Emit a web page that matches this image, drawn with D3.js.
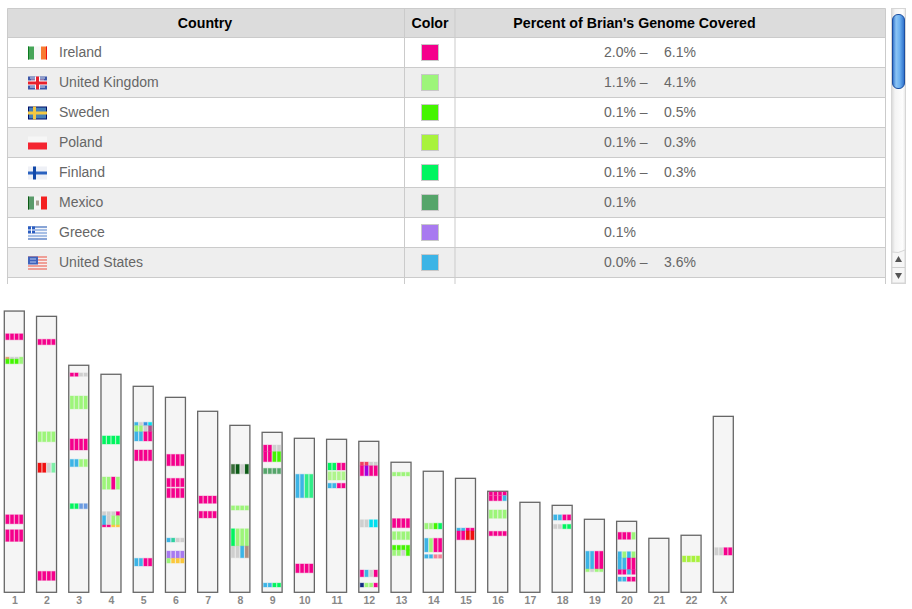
<!DOCTYPE html>
<html lang="en">
<head>
<meta charset="UTF-8">
<title>Brian's Genome</title>
<script src="https://d3js.org/d3.v7.min.js"></script>
<style>
    body { margin: 0; background: #fff; }
    svg { display: block; }
    text { font-family: "Liberation Sans", Arial, sans-serif; }
    .head { font-size: 14.2px; font-weight: bold; fill: #000; }
    .cell { font-size: 14px; fill: #666; }
    .tick text { font-size: 10.5px; font-weight: bold; fill: #888; }
</style>
</head>
<body>
<script>
    /******* DATA *******/
    // Table
    const countries = ["Ireland", "United Kingdom", "Sweden", "Poland", "Finland", "Mexico", "Greece", "United States"];
    const countryColors = ["#f5008c", "#9df57a", "#44f500", "#a8f23c", "#00f55f", "#55a56a", "#a87af0", "#3cb4e6"];
    const coverLow = ["2.0%", "1.1%", "0.1%", "0.1%", "0.1%", "0.1%", "0.1%", "0.0%"];
    const coverHigh = ["6.1%", "4.1%", "0.5%", "0.3%", "0.3%", null, null, "3.6%"];

    // Chromosomes, length in Mb
    const chromosomes = ["1","2","3","4","5","6","7","8","9","10","11","12","13","14","15","16","17","18","19","20","21","22","X"];
    const lengths = [250,245.3,201.8,193.8,183.1,173.3,160.9,148.4,142.2,136.9,136,134.2,115.6,107.6,101.3,89.8,80,77.3,64.9,63.1,48,50.7,156.4];

    // Short names for the colors used in the bands
    const IE = "#f5008c", UK = "#9df57a", SE = "#44f500", PL = "#a8f23c", FI = "#00f55f", MX = "#55a56a", GR = "#a87af0", US = "#3cb4e6";
    const GY = "#cfcfcf", CY = "#00e0f0", RD = "#f01010", DG = "#0c5a16", YL = "#fbc83c", NV = "#102a80", MV = "#b0508a";
    const SA = "#f58098", PW = "#6a9ae0", PU = "#a000e0", BR = "#b09080", MT = "#80f0a8", LG = "#b0f58c", CR = "#f04060", TL = "#30ee88", OL = "#3a6e3a", TQ = "#30d0a0", OR = "#e0a070";

    // chromosome, start Mb, end Mb, color in each of the 4 lanes
    const bands = [
        ["1",20.2,25.5,[IE,IE,IE,IE]], ["1",40.9,42.7,[OR,GY,GY,UK]], ["1",42.7,46.8,[SE,SE,SE,UK]],
        ["1",181.1,189.1,[IE,IE,IE,IE]], ["1",194.4,204.8,[IE,IE,IE,IE]],
        ["2",20.4,25.2,[IE,IE,IE,IE]], ["2",102.6,111.5,[UK,UK,UK,UK]], ["2",130.4,138.7,[RD,RD,GY,MT]], ["2",226.7,234.7,[IE,IE,IE,IE]],
        ["3",6.8,9.8,[IE,IE,GY,GY]], ["3",27.3,38.8,[UK,UK,UK,UK]], ["3",65.5,75.3,[IE,IE,IE,IE]], ["3",83.6,90.1,[US,US,UK,UK]], ["3",123,127.5,[FI,FI,PW,PW]],
        ["4",54.8,62,[FI,FI,FI,FI]], ["4",91.3,102.2,[UK,UK,IE,UK]], ["4",122.1,125.7,[GY,GY,GY,IE]], ["4",125.7,134,[US,GY,UK,UK]], ["4",134,135.7,[IE,IE,YL,YL]],
        ["5",32,35,[US,GY,"#3a90e0",CY]], ["5",35,40.4,[UK,UK,GY,MV]], ["5",40.4,48.6,[US,US,IE,IE]], ["5",56.6,66.1,[IE,IE,IE,IE]], ["5",152.9,159.7,[US,US,IE,IE]],
        ["6",50.7,60.8,[IE,IE,IE,IE]], ["6",72,79.5,[IE,IE,IE,IE]], ["6",80.9,89.2,[IE,IE,IE,IE]], ["6",125.1,128.6,[US,TQ,GY,GY]], ["6",136.6,143.1,[GR,GR,GR,GR]], ["6",143.1,147.3,[UK,YL,YL,YL]],
        ["7",75.3,81.8,[IE,IE,IE,IE]], ["7",88.9,94.8,[IE,IE,IE,IE]],
        ["8",34.7,43,[OL,DG,GY,DG]], ["8",71.5,75.3,[UK,UK,UK,UK]], ["8",91.9,107.3,[FI,UK,UK,UK]], ["8",107.3,117.7,[GY,GY,US,BR]],
        ["9",11.3,17.2,[IE,IE,GY,GY]], ["9",17.2,26.1,[IE,IE,SE,SE]], ["9",32,36.8,[MX,MX,MX,MX]], ["9",134,137.5,[US,US,FI,FI]],
        ["10",32,52.8,[US,US,TL,TL]], ["10",111.7,119.5,[IE,IE,IE,IE]],
        ["11",21.1,27.3,[FI,FI,IE,IE]], ["11",28.8,36.2,[LG,LG,LG,LG]], ["11",39.1,43.3,[US,US,IE,IE]],
        ["12",18.4,21.7,[CR,CR,GY,GY]], ["12",21.7,30.6,[IE,PU,IE,IE]], ["12",69.7,76.2,[GY,GY,CY,CY]], ["12",114.4,120.4,[IE,US,GY,IE]], ["12",126,129.5,[NV,UK,UK,IE]],
        ["13",8.9,12.2,[UK,UK,UK,UK]], ["13",50.1,58.1,[IE,IE,IE,IE]], ["13",61.7,68.8,[UK,UK,UK,UK]], ["13",73.8,78,[SE,SE,SE,SE]], ["13",78,83,[UK,UK,GY,SE]],
        ["14",46.2,51.3,[UK,UK,SE,FI]], ["14",59.6,71.7,[US,UK,IE,IE]], ["14",74.1,77.3,[US,US,SA,SA]],
        ["15",44.2,46.8,[US,US,IE,IE]], ["15",46.8,54.6,[IE,IE,RD,RD]],
        ["16",0.6,3.6,[IE,IE,IE,IE]], ["16",3.9,8.4,[IE,IE,IE,US]], ["16",16.6,24,[UK,UK,UK,UK]], ["16",35.6,39.5,[IE,IE,IE,IE]],
        ["18",8.4,13.1,[US,US,IE,IE]], ["18",16.9,20.8,[GY,GY,FI,FI]],
        ["19",28.4,44.2,[US,US,IE,IE]], ["19",44.2,46.6,[UK,GY,UK,UK]],
        ["20",9.8,16,[IE,IE,IE,UK]], ["20",27,32.6,[US,UK,US,UK]], ["20",32.6,43,[US,US,IE,IE]], ["20",43,47.1,[IE,IE,US,IE]], ["20",49.5,53.3,[US,US,IE,IE]],
        ["22",18.4,23.7,[PL,PL,PL,PL]],
        ["X",116.7,123.3,[GY,GY,IE,IE]]
    ];

    /******* STYLING/FORMATTING *******/
    const width = 912, height = 609;
    const svg = d3.select("body").append("svg").attr("width", width).attr("height", height);
    const defs = svg.append("defs");

    // Scales
    const tableLeft = 7.5, tableRight = 885.5, tableTop = 8.5, headBottom = 37.5, tableBottom = 284;
    const colCountry = 404.5, colColor = 455;
    const rowScale = d3.scaleBand().domain(d3.range(countries.length + 1)).range([headBottom, headBottom + 30 * (countries.length + 1)]);

    const chromBottom = 592.3;
    const chromWidth = 20;
    const xScale = d3.scalePoint().domain(chromosomes).range([14.3, 723.3]);
    const mbScale = d3.scaleLinear().domain([0, 250]).range([0, 281.25]);
    const laneScale = d3.scaleBand().domain([0, 1, 2, 3]).range([-8.6, 8.6]).paddingInner(0.25);

    /******* TABLE *******/
    const table = svg.append("g");
    table.append("rect").attr("x", tableLeft).attr("y", tableTop)
        .attr("width", tableRight - tableLeft).attr("height", headBottom - tableTop).attr("fill", "#dcdcdc");

    const rows = table.selectAll(".row").data(d3.range(countries.length + 1)).enter().append("g")
        .attr("transform", i => `translate(0,${rowScale(i)})`);
    rows.append("rect").attr("x", tableLeft).attr("width", tableRight - tableLeft)
        .attr("height", i => i === countries.length ? tableBottom - rowScale(i) : rowScale.bandwidth())
        .attr("fill", i => i % 2 ? "#eeeeee" : "#fff");

    // Grid lines
    const lineColor = "#cbcbcb";
    table.selectAll(".hline").data(d3.range(countries.length + 1)).enter().append("line")
        .attr("x1", tableLeft).attr("x2", tableRight)
        .attr("y1", i => rowScale(i)).attr("y2", i => rowScale(i)).attr("stroke", lineColor);
    table.append("line").attr("x1", tableLeft).attr("x2", tableRight).attr("y1", tableTop).attr("y2", tableTop).attr("stroke", lineColor);
    [tableLeft, colCountry, colColor].forEach(x => {
        table.append("line").attr("x1", x).attr("x2", x).attr("y1", tableTop).attr("y2", tableBottom).attr("stroke", lineColor);
    });
    table.append("line").attr("x1", tableRight).attr("x2", tableRight).attr("y1", tableTop).attr("y2", tableBottom).attr("stroke", lineColor);

    // Header
    [["Country", 205], ["Color", 430], ["Percent of Brian's Genome Covered", 634.5]].forEach(h => {
        table.append("text").attr("class", "head").attr("x", h[1]).attr("y", 28).attr("text-anchor", "middle").text(h[0]);
    });

    // Cells
    const dataRows = rows.filter(i => i < countries.length);
    dataRows.append("text").attr("class", "cell").attr("x", 59).attr("y", 19.2).text(i => countries[i]);
    dataRows.append("rect").attr("x", 421.5).attr("y", 7).attr("width", 17).attr("height", 16)
        .attr("fill", i => countryColors[i]).attr("stroke", "#c8c8c8");
    dataRows.append("text").attr("class", "cell").attr("x", 604).attr("y", 19.2)
        .text(i => coverHigh[i] ? coverLow[i] + " \u2013" : coverLow[i]);
    dataRows.append("text").attr("class", "cell").attr("x", 664).attr("y", 19.2).text(i => coverHigh[i]);

    // Flags
    const flagW = 19, flagH = 13;
    function bars(g, list) {
        list.forEach(b => g.append("rect").attr("x", b[0]).attr("y", b[1]).attr("width", b[2]).attr("height", b[3]).attr("fill", b[4]));
    }
    const flagDraw = {
        "Ireland": [[0,0,6,13,"#46a558"],[6,0,7,13,"#f6f6f6"],[13,0,6,13,"#f87a32"],[0,0,1,13,"#0c7a20"],[18,0,1,13,"#f01010"]],
        "United Kingdom": [[0,0,19,13,"#3d57a8"],[2,1,5,1,"#dfe0ee"],[12,1,5,1,"#dfe0ee"],[3,3,4,1,"#e8a0b0"],[12,3,4,1,"#e8a0b0"],[2,10,5,1,"#dfe0ee"],[12,10,5,1,"#dfe0ee"],[7,0,5,13,"#fff"],[0,4,19,5,"#fff"],[8,0,3,13,"#e8202c"],[0,5,19,3,"#e8202c"]],
        "Sweden": [[0,0,19,13,"#00106a"],[1,1,17,11,"#4680b8"],[0,5,19,3,"#f4c842"],[5,0,3,13,"#f4c842"]],
        "Poland": [[0,0,19,6,"#f6f6f6"],[0,6,19,7,"#f42430"]],
        "Finland": [[0,0,19,13,"#eef0f6"],[0,5,19,3,"#2a62c0"],[5,0,3,13,"#1248a8"]],
        "Mexico": [[0,0,6,13,"#5a9a6a"],[0,0,1,13,"#0a5a14"],[6,0,7,13,"#f4f4f4"],[8,4,3,5,"#a8a090"],[13,0,6,13,"#f42020"]],
        "Greece": [[0,0,19,13,"#f4f6fb"],[0,0,19,1,"#1a50b0"],[7,3,12,1,"#5a88d0"],[7,6,12,1,"#5a88d0"],[0,9,19,1,"#5a88d0"],[0,12,19,1,"#1a50b0"],[0,0,7,7,"#2a5cc0"],[3,0,1,7,"#fff"],[0,3,7,1,"#fff"]],
        "United States": [[0,0,19,13,"#f6eeee"],[0,0,19,1,"#e85040"],[0,3,19,1,"#e85040"],[0,6,19,1,"#e85040"],[0,9,19,1,"#e85040"],[0,12,19,1,"#e85040"],[0,0,10,8,"#3f63bc"],[2,2,6,1,"#b8c8f0"],[2,5,6,1,"#b8c8f0"]]
    };
    dataRows.each(function (i) {
        const g = d3.select(this).append("g").attr("transform", `translate(28,${(rowScale.bandwidth() - flagH) / 2 + 0.5})`);
        bars(g, flagDraw[countries[i]]);
    });

    /******* SCROLLBAR *******/
    const trackGrad = defs.append("linearGradient").attr("id", "track");
    [[0, "#d8d8d8"], [0.25, "#f4f4f4"], [0.8, "#fdfdfd"], [1, "#e6e6e6"]].forEach(s => trackGrad.append("stop").attr("offset", s[0]).attr("stop-color", s[1]));
    const thumbGrad = defs.append("linearGradient").attr("id", "thumb");
    [[0, "#2a6cc8"], [0.3, "#8cc4f4"], [0.6, "#6cb0f0"], [1, "#2a6cc8"]].forEach(s => thumbGrad.append("stop").attr("offset", s[0]).attr("stop-color", s[1]));

    const scroll = svg.append("g");
    scroll.append("rect").attr("x", 891.5).attr("y", 8.5).attr("width", 14).attr("height", 275).attr("fill", "url(#track)").attr("stroke", "#d6d6d6");
    scroll.append("rect").attr("x", 892.5).attr("y", 14.5).attr("width", 12).attr("height", 74).attr("rx", 5.5)
        .attr("fill", "url(#thumb)").attr("stroke", "#1c4ea0").attr("stroke-width", 1);
    scroll.append("path").attr("d", "M892,252 Q898,254 905,250 V283 H892 Z").attr("fill", "#f6f6f6").attr("stroke", "#d6d6d6");
    scroll.append("line").attr("x1", 892).attr("x2", 905).attr("y1", 267.5).attr("y2", 267.5).attr("stroke", "#d0d0d0");
    scroll.append("path").attr("d", "M898.5,256 L902,262 H895 Z").attr("fill", "#555");
    scroll.append("path").attr("d", "M898.5,279 L902,273 H895 Z").attr("fill", "#555");

    /******* CHROMOSOMES *******/
    const chart = svg.append("g");
    const chromG = chart.selectAll(".chrom").data(chromosomes).enter().append("g")
        .attr("transform", d => `translate(${xScale(d)},${chromBottom})`);

    const lengthOf = c => lengths[chromosomes.indexOf(c)];

    chromG.append("rect")
        .attr("x", -chromWidth / 2)
        .attr("y", d => -mbScale(lengthOf(d)))
        .attr("width", chromWidth)
        .attr("height", d => mbScale(lengthOf(d)))
        .attr("fill", "#f5f5f5")
        .attr("stroke", "#666")
        .attr("stroke-width", 1.3);

    // One rect for each lane of each band
    const laneBits = bands.flatMap(b => b[3].map((color, lane) => ({ chrom: b[0], start: b[1], end: b[2], color: color, lane: lane })));
    chart.selectAll(".lane").data(laneBits).enter().append("rect")
        .attr("class", "lane")
        .attr("x", d => xScale(d.chrom) + laneScale(d.lane))
        .attr("y", d => chromBottom - mbScale(lengthOf(d.chrom)) + mbScale(d.start))
        .attr("width", laneScale.bandwidth())
        .attr("height", d => mbScale(d.end - d.start))
        .attr("fill", d => d.color)
        .attr("stroke", d => d.color)
        .attr("stroke-opacity", 0.35)
        .attr("stroke-width", 1);

    // Chromosome names
    const xAxis = d3.axisBottom(xScale).tickSize(0).tickPadding(4);
    chart.append("g").attr("transform", `translate(0,${chromBottom})`).call(xAxis)
        .call(g => g.select(".domain").remove());
</script>
</body>
</html>
